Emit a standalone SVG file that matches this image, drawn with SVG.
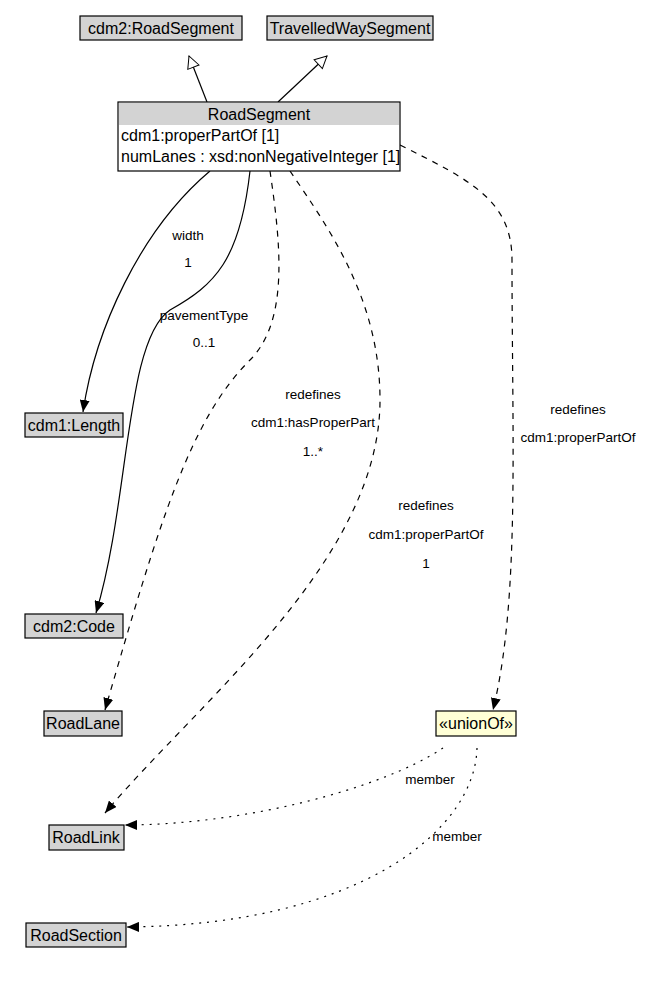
<svg xmlns="http://www.w3.org/2000/svg" width="651" height="986" viewBox="0 0 651 986">
<style>
text{font-family:"Liberation Sans",Arial,sans-serif;fill:#000}
.n{font-size:16px}
.l{font-size:13.5px}
.box{fill:#d3d3d3;stroke:#000;stroke-width:1.2}
.e{fill:none;stroke:#000;stroke-width:1.2}
.d{stroke-dasharray:6,6}
.o{stroke-dasharray:2,6}
</style>
<defs>
<marker id="a" viewBox="0 0 12 10" refX="12" refY="5" markerWidth="12" markerHeight="10" markerUnits="userSpaceOnUse" orient="auto"><path d="M0,0L12,5L0,10z" fill="#000"/></marker>
<marker id="g" viewBox="0 0 14 14" refX="13" refY="7" markerWidth="14" markerHeight="14" markerUnits="userSpaceOnUse" orient="auto"><path d="M1,1L13,7L1,13z" fill="#fff" stroke="#000"/></marker>
</defs>
<rect width="651" height="986" fill="#fff"/>
<g id="connectors">
<path class="e" d="M207,102L189,56" marker-end="url(#g)"/>
<path class="e" d="M278,102L327,56" marker-end="url(#g)"/>
<path class="e" d="M210,171C140,230 95,330 83,412" marker-end="url(#a)"/>
<path class="e" d="M250,171C240,260 215,285 170,310C125,340 130,500 96,613" marker-end="url(#a)"/>
<path class="e d" d="M270,171C280,240 290,320 250,360C190,420 160,520 105,710" marker-end="url(#a)"/>
<path class="e d" d="M290,171C330,230 380,300 380,400C380,560 200,700 105,813" marker-end="url(#a)"/>
<path class="e d" d="M400,145C470,180 512,200 512,260C512,440 520,600 493,710" marker-end="url(#a)"/>
<path class="e o" d="M443,748C380,790 240,825 125,825" marker-end="url(#a)"/>
<path class="e o" d="M477,748C475,830 360,925 127,927" marker-end="url(#a)"/>
</g>
<g id="cdm2RoadSegment"><rect class="box" x="80" y="16" width="162" height="24"/><text class="n" x="161" y="34" text-anchor="middle">cdm2:RoadSegment</text></g>
<g id="TravelledWaySegment"><rect class="box" x="267" y="16" width="166" height="24"/><text class="n" x="350" y="34" text-anchor="middle">TravelledWaySegment</text></g>
<g id="RoadSegment"><rect x="118" y="102" width="282" height="69" fill="#fff" stroke="#000" stroke-width="1.2"/><rect x="119" y="103" width="280" height="22" fill="#d3d3d3"/><text class="n" x="259" y="120" text-anchor="middle">RoadSegment</text><text class="n" x="121" y="141">cdm1:properPartOf [1]</text><text class="n" x="121" y="162">numLanes : xsd:nonNegativeInteger [1]</text></g>
<g id="cdm1Length"><rect class="box" x="25" y="413" width="98" height="24"/><text class="n" x="74" y="431" text-anchor="middle">cdm1:Length</text></g>
<g id="cdm2Code"><rect class="box" x="25" y="614" width="98" height="24"/><text class="n" x="74" y="632" text-anchor="middle">cdm2:Code</text></g>
<g id="RoadLane"><rect class="box" x="44" y="711" width="78" height="25"/><text class="n" x="83" y="729" text-anchor="middle">RoadLane</text></g>
<g id="unionOf"><rect x="436" y="711" width="80" height="25" fill="#ffffd6" stroke="#000" stroke-width="1.2"/><text class="n" x="476" y="729" text-anchor="middle">«unionOf»</text></g>
<g id="RoadLink"><rect class="box" x="49" y="825" width="75" height="25"/><text class="n" x="86" y="843" text-anchor="middle">RoadLink</text></g>
<g id="RoadSection"><rect class="box" x="26" y="923" width="100" height="24"/><text class="n" x="76" y="941" text-anchor="middle">RoadSection</text></g>
<g id="labels">
<text class="l" x="188" y="240" text-anchor="middle">width</text>
<text class="l" x="188" y="267" text-anchor="middle">1</text>
<text class="l" x="204" y="320" text-anchor="middle">pavementType</text>
<text class="l" x="204" y="347" text-anchor="middle">0..1</text>
<text class="l" x="313" y="399" text-anchor="middle">redefines</text>
<text class="l" x="313" y="427" text-anchor="middle">cdm1:hasProperPart</text>
<text class="l" x="313" y="456" text-anchor="middle">1..*</text>
<text class="l" x="426" y="510" text-anchor="middle">redefines</text>
<text class="l" x="426" y="539" text-anchor="middle">cdm1:properPartOf</text>
<text class="l" x="426" y="568" text-anchor="middle">1</text>
<text class="l" x="578" y="414" text-anchor="middle">redefines</text>
<text class="l" x="578" y="442" text-anchor="middle">cdm1:properPartOf</text>
<text class="l" x="430" y="784" text-anchor="middle">member</text>
<text class="l" x="457" y="841" text-anchor="middle">member</text>
</g>
</svg>
